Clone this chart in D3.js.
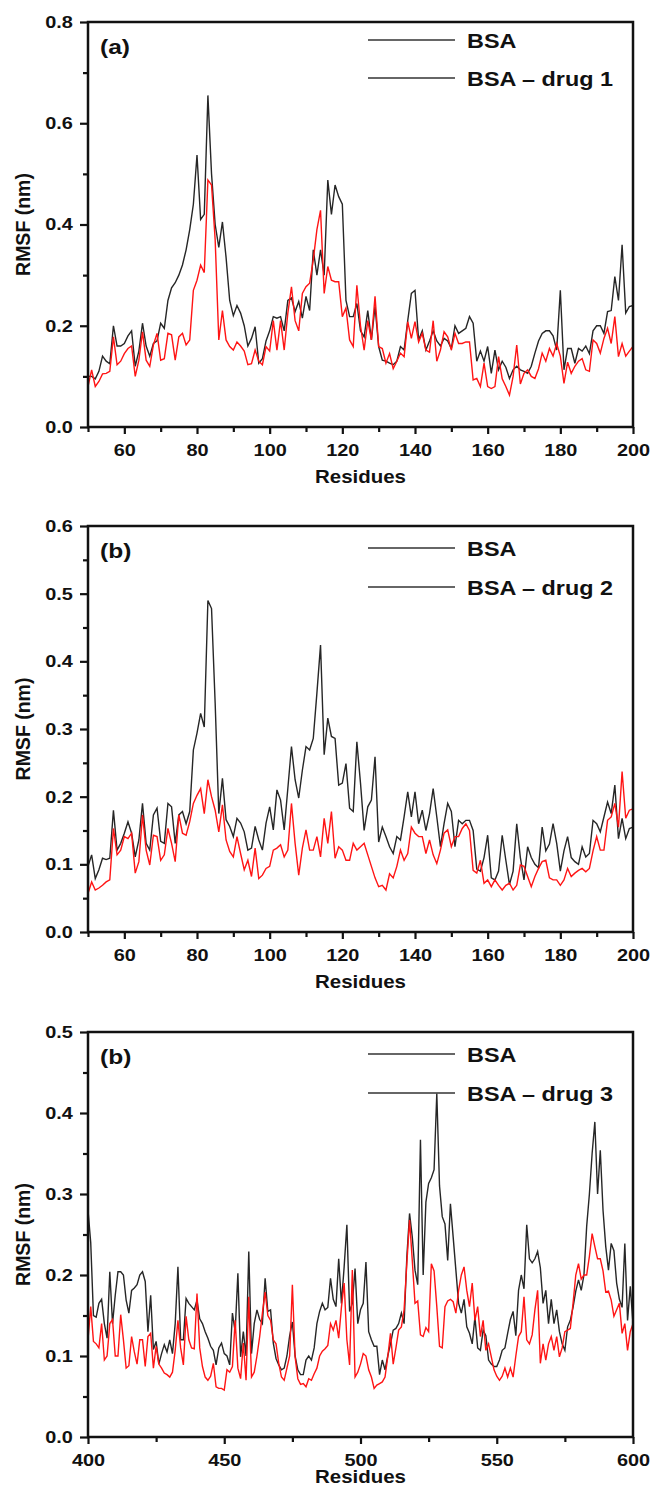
<!DOCTYPE html>
<html>
<head>
<meta charset="utf-8">
<script src="https://d3js.org/d3.v7.min.js"></script>
<style>
  body { margin: 0; background: #fff; }
  text { font-family: "Liberation Sans", Arial, sans-serif; font-weight: bold; fill: #111; }
</style>
</head>
<body>
<svg id="chart" width="652" height="1489"></svg>
<script>
// residue numbering of the three panels
const startAB = 50, startC = 400;

// panel (a): residues 50..200
const bsaA = [
  .10,.10,.095,.11,.14,.13,.125,.20,.16,.16,
  .165,.18,.19,.12,.15,.205,.16,.14,.165,.17,
  .205,.195,.25,.275,.285,.30,.32,.35,.39,.44,
  .537,.41,.42,.655,.50,.40,.355,.405,.335,.25,
  .22,.24,.225,.20,.16,.175,.198,.126,.135,.17,
  .19,.218,.215,.218,.19,.25,.255,.228,.248,.215,
  .258,.23,.35,.30,.35,.30,.488,.42,.478,.455,
  .44,.25,.218,.218,.244,.19,.178,.23,.172,.238,
  .159,.132,.13,.126,.123,.13,.159,.152,.21,.264,
  .27,.172,.19,.152,.17,.19,.17,.16,.175,.17,
  .155,.20,.185,.19,.195,.218,.205,.13,.15,.13,
  .159,.106,.152,.113,.13,.118,.096,.113,.12,.113,
  .11,.106,.12,.146,.17,.185,.19,.19,.18,.152,
  .27,.113,.155,.155,.126,.155,.15,.16,.145,.19,
  .20,.20,.185,.228,.23,.297,.25,.36,.225,.238,
  .24
];
const drug1 = [
  .08,.113,.08,.09,.105,.106,.11,.178,.123,.13,
  .145,.155,.16,.10,.132,.188,.132,.12,.162,.185,
  .132,.135,.185,.182,.132,.178,.185,.162,.172,.27,
  .29,.32,.305,.488,.478,.37,.172,.23,.172,.159,
  .152,.168,.16,.15,.123,.125,.152,.13,.123,.159,
  .15,.21,.152,.21,.152,.225,.277,.21,.19,.264,
  .277,.284,.33,.39,.428,.264,.317,.29,.287,.287,
  .218,.235,.172,.159,.28,.20,.152,.21,.172,.258,
  .159,.155,.126,.145,.115,.13,.146,.139,.208,.175,
  .208,.168,.185,.152,.148,.21,.13,.152,.188,.178,
  .152,.185,.165,.165,.168,.168,.093,.096,.08,.126,
  .08,.076,.08,.139,.095,.08,.063,.10,.162,.085,
  .106,.113,.10,.096,.115,.146,.13,.155,.14,.165,
  .14,.086,.128,.106,.12,.13,.135,.113,.11,.172,
  .165,.146,.175,.195,.165,.218,.139,.165,.14,.15,
  .159
];

// panel (b): residues 50..200
const bsaB = [
  .097,.114,.079,.092,.109,.107,.109,.18,.121,.131,
  .146,.163,.146,.111,.136,.19,.131,.121,.173,.183,
  .134,.131,.19,.185,.131,.173,.178,.16,.178,.269,
  .294,.323,.303,.49,.478,.338,.175,.227,.166,.156,
  .141,.168,.161,.148,.121,.124,.156,.136,.121,.161,
  .185,.151,.21,.195,.151,.212,.274,.225,.198,.239,
  .274,.269,.286,.353,.424,.262,.316,.289,.286,.217,
  .22,.249,.183,.178,.281,.22,.15,.185,.195,.259,
  .133,.155,.141,.126,.116,.141,.136,.17,.207,.17,
  .207,.16,.18,.15,.175,.212,.17,.126,.16,.19,
  .178,.126,.165,.16,.165,.165,.15,.093,.09,.11,
  .143,.08,.077,.09,.143,.106,.07,.09,.16,.11,
  .077,.126,.11,.10,.095,.155,.12,.13,.16,.131,
  .09,.12,.141,.11,.104,.10,.126,.111,.116,.165,
  .16,.148,.17,.192,.175,.217,.138,.168,.138,.153,
  .155
];
const drug2 = [
  .057,.074,.062,.065,.069,.074,.077,.153,.114,.121,
  .141,.138,.146,.087,.104,.173,.121,.099,.143,.141,
  .106,.114,.153,.131,.104,.173,.146,.143,.163,.19,
  .202,.212,.175,.225,.20,.18,.148,.188,.136,.119,
  .111,.141,.116,.092,.106,.082,.124,.079,.084,.094,
  .097,.121,.124,.129,.111,.121,.19,.131,.084,.124,
  .151,.121,.121,.141,.111,.168,.131,.178,.109,.126,
  .121,.106,.106,.131,.121,.126,.131,.114,.097,.08,
  .067,.069,.062,.086,.08,.097,.121,.106,.116,.155,
  .146,.141,.141,.116,.136,.114,.101,.121,.146,.151,
  .126,.141,.141,.153,.16,.15,.091,.087,.106,.072,
  .077,.067,.077,.069,.062,.069,.072,.062,.069,.099,
  .097,.082,.067,.082,.094,.104,.106,.08,.077,.077,
  .069,.077,.094,.082,.087,.091,.094,.089,.094,.12,
  .141,.121,.121,.165,.17,.19,.155,.237,.168,.18,
  .182
];

// panel (c): residues 400..600
const bsaC = [
  .28,.24,.15,.148,.165,.17,.14,.122,.204,.14,
  .175,.204,.204,.20,.169,.153,.181,.184,.188,.20,
  .204,.192,.13,.175,.108,.118,.09,.103,.114,.105,
  .12,.103,.14,.21,.12,.12,.171,.165,.161,.157,
  .169,.146,.14,.13,.122,.112,.107,.089,.11,.116,
  .103,.10,.089,.153,.13,.202,.099,.13,.10,.229,
  .103,.14,.157,.145,.14,.196,.155,.157,.116,.097,
  .089,.083,.085,.10,.125,.142,.10,.083,.077,.077,
  .095,.10,.095,.11,.14,.155,.165,.157,.16,.196,
  .17,.161,.22,.165,.21,.262,.155,.165,.208,.14,
  .157,.165,.216,.13,.12,.112,.112,.077,.095,.083,
  .10,.115,.132,.134,.14,.153,.14,.222,.276,.247,
  .206,.188,.367,.20,.29,.313,.32,.33,.424,.31,
  .272,.263,.218,.288,.247,.206,.165,.153,.17,.136,
  .128,.115,.148,.11,.107,.132,.125,.095,.09,.087,
  .087,.095,.107,.11,.128,.145,.155,.125,.181,.20,
  .183,.262,.22,.215,.22,.229,.209,.165,.181,.14,
  .17,.14,.157,.13,.115,.107,.136,.144,.16,.18,
  .194,.181,.20,.26,.30,.35,.389,.30,.354,.28,
  .235,.206,.239,.23,.19,.17,.16,.239,.144,.186,
  .14
];
const drug3 = [
  .12,.161,.118,.115,.11,.14,.095,.10,.14,.145,
  .10,.10,.151,.12,.085,.088,.124,.105,.09,.12,
  .12,.087,.124,.128,.085,.112,.09,.085,.079,.077,
  .074,.08,.107,.144,.11,.089,.149,.12,.11,.109,
  .177,.11,.087,.074,.07,.075,.091,.062,.06,.06,
  .058,.083,.08,.087,.144,.085,.072,.116,.07,.173,
  .074,.08,.10,.124,.153,.179,.15,.144,.12,.115,
  .091,.074,.07,.085,.10,.188,.099,.072,.065,.066,
  .062,.072,.07,.078,.085,.10,.106,.109,.113,.14,
  .132,.144,.122,.16,.19,.12,.089,.206,.074,.08,
  .09,.103,.10,.083,.074,.06,.064,.066,.068,.074,
  .099,.128,.09,.11,.132,.136,.157,.214,.268,.218,
  .165,.168,.126,.124,.135,.13,.214,.205,.161,.112,
  .11,.161,.168,.17,.167,.153,.181,.20,.21,.181,
  .161,.19,.144,.161,.124,.144,.107,.115,.099,.083,
  .075,.07,.075,.085,.074,.085,.074,.10,.124,.13,
  .173,.12,.115,.126,.157,.181,.091,.115,.095,.115,
  .124,.107,.124,.099,.11,.13,.132,.134,.165,.20,
  .214,.195,.20,.20,.223,.251,.235,.22,.22,.205,
  .179,.18,.169,.149,.157,.165,.128,.14,.107,.13,
  .14
];

const xTicksAB = [60, 80, 100, 120, 140, 160, 180, 200];
const xMinorAB = [50, 70, 90, 110, 130, 150, 170, 190];
const xTicksC = [400, 450, 500, 550, 600];
const xMinorC = [425, 475, 525, 575];

const panels = [
  { label: "(a)", top: 22, bottom: 427, start: startAB, black: bsaA, red: drug1,
    xDom: [50, 200], xTicks: xTicksAB, xMinor: xMinorAB, yMax: 0.8, yStep: 0.2,
    legend: ["BSA", "BSA \u2013 drug 1"], legY: [18, 56], titleDy: 50 },
  { label: "(b)", top: 526, bottom: 932, start: startAB, black: bsaB, red: drug2,
    xDom: [50, 200], xTicks: xTicksAB, xMinor: xMinorAB, yMax: 0.6, yStep: 0.1,
    legend: ["BSA", "BSA \u2013 drug 2"], legY: [22, 61], titleDy: 50 },
  { label: "(b)", top: 1032, bottom: 1437, start: startC, black: bsaC, red: drug3,
    xDom: [400, 600], xTicks: xTicksC, xMinor: xMinorC, yMax: 0.5, yStep: 0.1,
    legend: ["BSA", "BSA \u2013 drug 3"], legY: [22, 61], titleDy: 40 }
];

const left = 88, right = 633;
const stretch = 1.17;
const svg = d3.select("#chart");

panels.forEach(p => {
  const x = d3.scaleLinear().domain(p.xDom).range([left, right]);
  const y = d3.scaleLinear().domain([0, p.yMax]).range([p.bottom, p.top]);
  const g = svg.append("g");

  const major = d3.range(0, p.yMax + 1e-9, p.yStep);
  const minor = major.slice(0, -1).map(v => v + p.yStep / 2);

  // y axis, major + minor ticks
  g.append("g").attr("transform", `translate(${left},0)`)
    .call(d3.axisLeft(y).tickValues(major).tickSize(8).tickPadding(5)
      .tickFormat(d3.format(".1f")));
  g.append("g").attr("transform", `translate(${left},0)`)
    .call(d3.axisLeft(y).tickValues(minor).tickSize(5).tickFormat(""));

  // x axis
  g.append("g").attr("transform", `translate(0,${p.bottom})`)
    .call(d3.axisBottom(x).tickValues(p.xTicks).tickSize(7).tickPadding(10));
  g.append("g").attr("transform", `translate(0,${p.bottom})`)
    .call(d3.axisBottom(x).tickValues(p.xMinor).tickSize(5).tickFormat(""));

  g.selectAll(".domain").remove();
  g.selectAll(".tick line").attr("stroke", "#111").attr("stroke-width", 2.2);
  g.selectAll(".tick text").attr("font-size", 17)
    .attr("font-family", "Liberation Sans, Arial, sans-serif")
    .attr("font-weight", "bold").attr("fill", "#111")
    .attr("transform", `scale(${stretch},1)`);

  // series
  const line = d3.line()
    .x((d, i) => x(p.start + i))
    .y(d => y(d));
  g.append("path").attr("d", line(p.black))
    .attr("fill", "none").attr("stroke", "#262626").attr("stroke-width", 1.4);
  g.append("path").attr("d", line(p.red))
    .attr("fill", "none").attr("stroke", "#ff1414").attr("stroke-width", 1.4);

  // frame
  g.append("rect").attr("x", left).attr("y", p.top)
    .attr("width", right - left).attr("height", p.bottom - p.top)
    .attr("fill", "none").attr("stroke", "#111").attr("stroke-width", 2.5);

  // panel tag
  g.append("text").attr("transform", `translate(100,${p.top + 25}) scale(${stretch},1)`)
    .attr("dy", "0.35em").attr("font-size", 21).text(p.label);

  // legend (both sample lines are black in the original)
  p.legend.forEach((t, i) => {
    const ly = p.top + p.legY[i];
    g.append("line").attr("x1", 368).attr("x2", 455).attr("y1", ly).attr("y2", ly)
      .attr("stroke", "#333").attr("stroke-width", 1.5);
    g.append("text").attr("transform", `translate(467,${ly + 1}) scale(${stretch},1)`)
      .attr("dy", "0.35em").attr("font-size", 20).text(t);
  });

  // axis titles
  g.append("text").attr("transform", `translate(${(left + right) / 2},${p.bottom + p.titleDy}) scale(${stretch},1)`)
    .attr("text-anchor", "middle").attr("dy", "0.35em").attr("font-size", 17.5).text("Residues");
  g.append("text").attr("transform", `translate(23,${(p.top + p.bottom) / 2}) rotate(-90)`)
    .attr("text-anchor", "middle").attr("dy", "0.35em").attr("font-size", 19.5).text("RMSF (nm)");
});
</script>
</body>
</html>
